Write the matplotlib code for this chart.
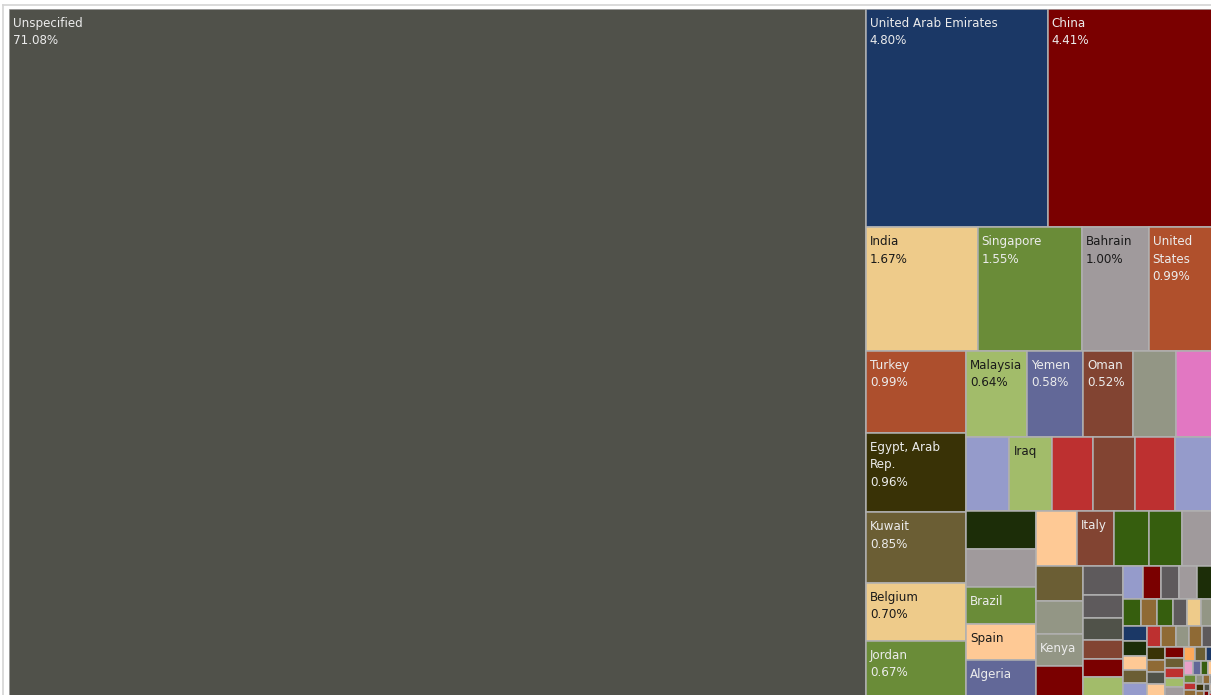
import matplotlib.pyplot as plt
from matplotlib.patches import Rectangle
from matplotlib.lines import Line2D

# share of total (%), in descending order as laid out by the treemap
shares = [71.08, 4.80, 4.41,
          1.67, 1.55, 1.00, 0.99,
          0.99, 0.96, 0.85, 0.70, 0.67,
          0.64, 0.58, 0.52, 0.44, 0.41,
          0.39, 0.38, 0.37, 0.37, 0.36, 0.36,
          0.32, 0.32, 0.31, 0.31, 0.30,
          0.275, 0.245, 0.23, 0.22, 0.215,
          0.20, 0.19, 0.18, 0.17,
          0.14, 0.11, 0.105, 0.092, 0.09, 0.09,
          0.082, 0.075, 0.074, 0.073, 0.072,
          0.058, 0.054, 0.05, 0.048, 0.045, 0.044,
          0.044, 0.042, 0.040, 0.038, 0.038,
          0.036, 0.035, 0.034, 0.032, 0.031, 0.030,
          0.028, 0.027, 0.026, 0.025, 0.024, 0.022, 0.021, 0.020, 0.019, 0.018,
          0.016, 0.015, 0.014, 0.013, 0.012, 0.011, 0.010, 0.009, 0.008, 0.007,
          0.006, 0.006, 0.005, 0.005, 0.004, 0.003, 0.002, 0.002]

labels = {0: "Unspecified\n71.08%", 1: "United Arab Emirates\n4.80%", 2: "China\n4.41%",
          3: "India\n1.67%", 4: "Singapore\n1.55%", 5: "Bahrain\n1.00%",
          6: "United\nStates\n0.99%", 7: "Turkey\n0.99%", 8: "Egypt, Arab\nRep.\n0.96%",
          9: "Kuwait\n0.85%", 10: "Belgium\n0.70%", 11: "Jordan\n0.67%",
          12: "Malaysia\n0.64%", 13: "Yemen\n0.58%", 14: "Oman\n0.52%",
          18: "Iraq", 25: "Brazil", 26: "Spain", 27: "Algeria", 29: "Italy", 35: "Kenya"}
dark_text = [3, 5, 10, 12, 18, 26]

colors = ["#50514a", "#1b3866", "#7a0000",
          "#eecb8a", "#6a8c38", "#a09a9c", "#b0502c",
          "#ad4f2d", "#393206", "#6b5e34", "#eecb8a", "#6a8c38",
          "#a2bc6a", "#626898", "#824432", "#939685", "#e277c2",
          "#959bcb", "#a2bc6a", "#bd3030", "#824432", "#bd3030", "#959bcb",
          "#1c2d08", "#a09a9c", "#6a8c38", "#fec995", "#626898",
          "#fec995", "#824432", "#365e0e", "#365e0e", "#a09a9c",
          "#6b5e34", "#939685", "#939685", "#7a0000",
          "#5e5a5c", "#5e5a5c", "#505249", "#824432", "#7a0000", "#a2bc6a",
          "#959bcb", "#7a0000", "#5e5a5c", "#a09a9c", "#1c2d08",
          "#365e0e", "#8f6a35", "#365e0e", "#5e5a5c", "#eecb8a", "#939685",
          "#1b3866", "#1c2d08", "#fec995", "#6b5e34", "#959bcb"]
tail_colors = ["#bd3030", "#8f6a35", "#939685", "#8f6a35", "#5e5a5c", "#393206",
               "#8f6a35", "#505249", "#fec995", "#7a0000", "#6b5e34", "#bd3030",
               "#a2bc6a", "#a09a9c", "#fea95a", "#6b5e34", "#1b3866", "#e8a0c8",
               "#626898", "#365e0e", "#fec995", "#6a8c38"]

PHI = (1 + 5 ** 0.5) / 2


def squarify(vals, x0, y0, x1, y1, ratio=PHI):
    # same row-building rule as d3.treemapSquarify (golden ratio target)
    rects = []
    value = sum(vals)
    i0 = i1 = 0
    n = len(vals)
    while i0 < n:
        dx, dy = x1 - x0, y1 - y0
        s = vals[i1]
        i1 += 1
        mn = mx = s
        alpha = max(dy / dx, dx / dy) / (value * ratio)
        beta = s * s * alpha
        min_ratio = max(mx / beta, beta / mn)
        while i1 < n:
            v = vals[i1]
            s += v
            mn = min(mn, v)
            mx = max(mx, v)
            beta = s * s * alpha
            nr = max(mx / beta, beta / mn)
            if nr > min_ratio:
                s -= v
                break
            min_ratio = nr
            i1 += 1
        row = vals[i0:i1]
        if dx < dy:
            yb = y0 + dy * s / value
            cx = x0
            for v in row:
                w = dx * v / s
                rects.append((cx, y0, w, yb - y0))
                cx += w
            y0 = yb
        else:
            xb = x0 + dx * s / value
            cy = y0
            for v in row:
                h = dy * v / s
                rects.append((x0, cy, xb - x0, h))
                cy += h
            x0 = xb
        value -= s
        i0 = i1
    return rects


W, H = 1206.0, 687.0
rects = squarify(shares, 0, 0, W, H)

fig = plt.figure(figsize=(12.11, 6.95), dpi=100)
fig.patch.set_facecolor("white")
ax = fig.add_axes([9 / 1211, -1 / 695, W / 1211, H / 695])
ax.set_xlim(0, W)
ax.set_ylim(H, 0)
ax.axis("off")

for i, (x, y, w, h) in enumerate(rects):
    c = colors[i] if i < len(colors) else tail_colors[(i - len(colors)) % len(tail_colors)]
    ax.add_patch(Rectangle((x, y), w, h, facecolor=c, edgecolor="#b0b0b0", linewidth=1.1))
    if i in labels:
        tc = "#1a1a1a" if i in dark_text else "#ececec"
        ax.text(x + 4, y + 8, labels[i], color=tc, fontsize=8.6, va="top", ha="left",
                linespacing=1.45, family="DejaVu Sans")

fig.add_artist(Line2D([3 / 1211, 1], [1 - 4.5 / 695, 1 - 4.5 / 695], color="#d4d4d4", lw=1.2))
fig.add_artist(Line2D([3 / 1211, 3 / 1211], [0, 1 - 4.5 / 695], color="#d4d4d4", lw=1.2))

fig.savefig("out.png", dpi=100)
